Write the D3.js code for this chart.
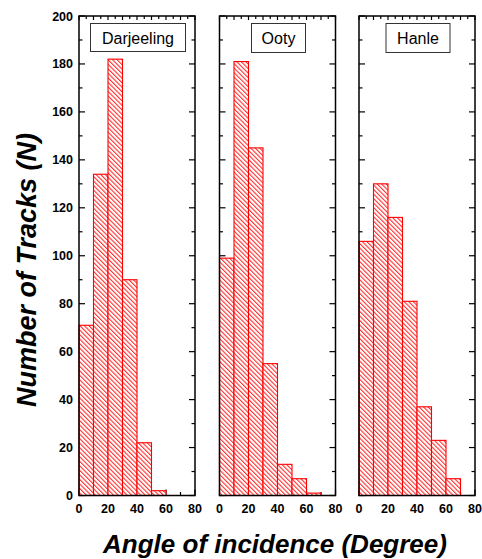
<!DOCTYPE html>
<html><head><meta charset="utf-8">
<script src="https://cdn.jsdelivr.net/npm/d3@7"></script>
<style>body{margin:0;background:#fff}svg{display:block}</style>
</head><body>
<script>
const binStarts = [0,10,20,30,40,50,60,70];
const sites = ["Darjeeling","Ooty","Hanle"];
const darjeeling = [71,134,182,90,22,2,0,0];
const ooty = [99,181,145,55,13,7,1,0];
const hanle = [106,130,116,81,37,23,7,0];
const seriesValues = [darjeeling, ooty, hanle];
const yTicks = [0,20,40,60,80,100,120,140,160,180,200];
const xTicks = [0,20,40,60,80];

const W=482,H=559;
const svg=d3.select("body").append("svg").attr("width",W).attr("height",H);
const defs=svg.append("defs");
const P=3.2;
const pat=defs.append("pattern").attr("id","hatch").attr("patternUnits","userSpaceOnUse")
  .attr("width",P).attr("height",P).attr("patternTransform","rotate(45)");
pat.append("rect").attr("width",P).attr("height",P).attr("fill","#fff");
pat.append("line").attr("x1",0).attr("x2",P).attr("y1",1).attr("y2",1)
  .attr("stroke","#ff0000").attr("stroke-width",0.9);

const yTop=16, yBottom=495.5;
const panelX=[[79,195],[219.5,335.5],[359,475]];
const y=d3.scaleLinear().domain([0,200]).range([yBottom,yTop]);
const font="Liberation Sans, Arial, Helvetica, sans-serif";

panelX.forEach((px,i)=>{
  const x=d3.scaleLinear().domain([0,80]).range(px);
  const g=svg.append("g");
  const tk=g.append("g").attr("stroke","#000").attr("stroke-width",1.2);
  d3.range(0,201,10).forEach(v=>{
    const L = v%20===0?6:3.5;
    tk.append("line").attr("x1",px[0]).attr("x2",px[0]+L).attr("y1",y(v)).attr("y2",y(v));
    tk.append("line").attr("x1",px[1]).attr("x2",px[1]-L).attr("y1",y(v)).attr("y2",y(v));
  });
  d3.range(0,81,10).forEach(v=>{
    const L = v%20===0?6:3.5;
    tk.append("line").attr("x1",x(v)).attr("x2",x(v)).attr("y1",yBottom).attr("y2",yBottom-L);
  });
  d3.range(0,81,5).forEach(v=>{
    const L = v%10===0?4:3;
    tk.append("line").attr("x1",x(v)).attr("x2",x(v)).attr("y1",yTop).attr("y2",yTop+L);
  });
  const vals=seriesValues[i];
  g.append("g").selectAll("rect").data(binStarts.map((b,j)=>({b,v:vals[j]})).filter(d=>d.v>0))
    .join("rect")
    .attr("x",d=>x(d.b)).attr("width",d=>x(d.b+10)-x(d.b))
    .attr("y",d=>y(d.v)).attr("height",d=>y(0)-y(d.v))
    .attr("fill","url(#hatch)").attr("stroke","#ff0000").attr("stroke-width",1.1);
  g.append("rect").attr("x",px[0]).attr("y",yTop).attr("width",px[1]-px[0]).attr("height",yBottom-yTop)
    .attr("fill","none").attr("stroke","#000").attr("stroke-width",1.5);
  g.append("g").selectAll("text").data(xTicks).join("text")
    .attr("x",d=>x(d)).attr("y",513).attr("text-anchor","middle")
    .attr("font-family",font).attr("font-weight","bold").attr("font-size",12.5).text(d=>d);
});

const boxes=[[90.5,23.5,95,28],[251.5,23.5,54,29],[386,23.5,64,29]];
sites.forEach((s,i)=>{
  const b=boxes[i];
  svg.append("rect").attr("x",b[0]).attr("y",b[1]).attr("width",b[2]).attr("height",b[3])
    .attr("fill","#fff").attr("stroke","#333").attr("stroke-width",1);
  svg.append("text").attr("x",b[0]+b[2]/2).attr("y",b[1]+b[3]/2+6).attr("text-anchor","middle")
    .attr("font-family",font).attr("font-size",16).attr("fill","#000").text(s);
});

svg.append("g").selectAll("text").data(yTicks).join("text")
  .attr("x",73).attr("y",d=>y(d)+4.5).attr("text-anchor","end")
  .attr("font-family",font).attr("font-weight","bold").attr("font-size",12.5).text(d=>d);

svg.append("text").attr("transform","translate(36,270) rotate(-90)").attr("text-anchor","middle")
  .attr("font-family",font).attr("font-weight","bold").attr("font-style","italic").attr("font-size",27)
  .text("Number of Tracks (N)");
svg.append("text").attr("x",275).attr("y",553).attr("text-anchor","middle")
  .attr("font-family",font).attr("font-weight","bold").attr("font-style","italic").attr("font-size",26)
  .text("Angle of incidence (Degree)");
</script>
</body></html>
